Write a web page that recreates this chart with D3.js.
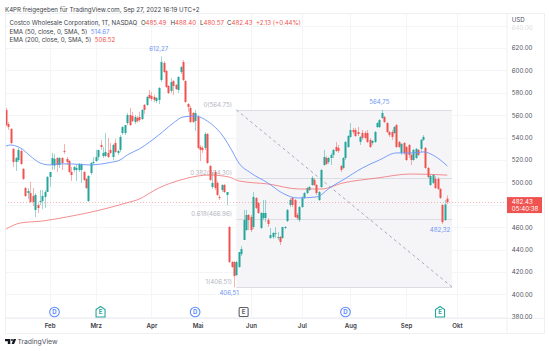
<!DOCTYPE html>
<html>
<head>
<meta charset="utf-8">
<script src="https://cdn.jsdelivr.net/npm/d3@7"></script>
<style>
body { margin: 0; background: #fff; }
svg { display: block; }
text { font-family: Inter, "Noto Sans", sans-serif; }
</style>
</head>
<body>
<div id="chart"></div>
<script>
// daily bars
const opens = [
564.7,552.1,547.7,529.9,518.2,520.0,528.1,512.0,495.0,490.5,
490.5,487.9,475.4,479.8,482.5,483.4,487.0,491.4,504.8,515.6,
515.0,521.8,515.6,521.8,528.1,520.9,519.1,509.3,511.1,511.1,
511.1,511.1,509.3,503.1,483.4,508.4,517.3,519.1,522.7,533.4,
523.6,523.6,526.3,529.0,522.7,535.2,526.3,529.0,544.1,544.1,
553.0,560.2,559.3,553.9,557.5,558.4,556.6,569.2,569.2,578.1,
577.2,576.3,572.7,573.6,591.4,606.6,599.5,586.1,581.6,590.5,
587.0,582.5,598.6,607.5,590.5,570.0,566.5,562.0,554.8,558.4,
531.6,530.8,530.8,543.2,514.7,495.9,509.3,499.5,487.0,493.2,
497.7,488.8,460.2,428.9,428.9,417.3,424.5,436.0,448.6,457.5,
470.9,469.1,460.2,486.1,481.6,459.3,468.2,468.2,466.4,450.4,
451.3,453.9,450.4,451.3,450.4,459.3,465.5,479.8,486.1,484.3,
470.9,466.4,478.0,486.1,490.5,493.2,497.7,502.2,497.7,484.3,
495.9,515.6,521.8,518.2,521.8,524.5,531.6,530.8,514.7,512.9,
521.8,531.6,540.6,546.8,546.8,545.0,536.1,544.1,544.1,544.1,
537.9,535.2,536.1,549.4,549.4,557.5,558.4,553.0,545.0,545.0,
544.1,551.2,536.1,526.3,535.2,531.6,533.4,524.5,520.0,521.8,
529.0,529.9,537.9,530.8,512.9,497.7,499.5,503.1,503.1,494.1,
479.8,466.4,485.49];
const highs = [
566.5,554.0,548.6,530.8,522.7,530.8,529.9,512.9,495.9,495.0,
500.4,495.0,490.5,481.6,493.2,493.2,493.2,505.7,509.3,526.3,
525.5,522.7,522.7,522.7,534.3,522.7,520.0,513.8,514.7,516.5,
517.4,517.4,510.2,504.0,506.6,518.2,522.7,529.0,529.0,537.9,
531.6,544.1,539.7,535.2,534.3,538.8,529.0,542.3,550.3,551.2,
562.0,566.5,562.9,560.2,559.3,562.9,565.6,570.1,577.2,582.5,
580.7,578.1,576.3,585.2,612.27,608.4,600.4,587.0,593.2,591.4,
587.9,595.0,603.9,609.3,591.4,570.9,568.3,562.9,564.7,560.2,
533.4,532.5,545.0,544.1,515.6,509.3,511.1,501.3,488.8,498.6,
498.6,491.4,461.1,429.8,429.8,429.8,437.8,443.2,475.4,475.4,
471.8,470.9,491.4,487.0,482.5,473.6,484.3,484.3,468.2,459.3,
455.7,460.2,455.7,452.2,460.2,461.1,476.3,486.1,487.0,485.2,
472.7,479.0,487.9,491.4,495.9,496.8,505.7,504.0,498.6,492.3,
512.0,529.0,523.6,522.7,526.3,529.9,536.1,533.4,515.6,522.7,
537.0,542.3,553.0,548.6,548.6,549.5,541.4,546.8,545.9,546.8,
539.7,537.9,545.9,553.9,556.6,564.75,559.3,553.9,545.9,546.8,
550.3,552.1,537.0,535.2,536.1,532.5,534.3,525.4,529.9,530.8,
529.9,538.8,542.3,531.6,513.8,506.6,507.5,505.7,504.8,495.0,
480.7,484.3,488.40];
const lows = [
550.3,546.8,534.3,513.8,510.2,518.2,515.6,502.2,487.0,485.2,
481.6,478.9,469.1,472.7,479.8,476.3,477.2,491.4,495.9,511.1,
511.5,509.3,512.9,511.1,525.4,515.6,508.4,501.3,509.3,501.3,
509.3,499.5,501.3,494.1,482.5,506.6,515.6,518.2,520.0,529.0,
521.8,522.7,521.8,525.4,520.0,526.3,524.5,527.2,542.3,542.3,
551.2,550.3,553.9,552.1,553.0,553.9,555.7,561.1,568.3,574.5,
572.7,571.8,570.9,570.0,589.6,597.7,584.3,578.9,579.8,578.1,
582.5,579.8,596.8,590.5,570.9,562.9,553.0,553.0,545.9,529.9,
519.1,526.3,529.0,516.5,501.3,494.1,493.2,487.9,484.3,491.4,
490.5,479.8,428.0,423.6,406.51,416.4,423.6,434.2,448.6,456.6,
457.5,455.7,458.4,476.3,471.8,458.4,466.4,464.6,460.2,449.5,
449.5,450.4,448.6,444.1,449.5,458.4,464.6,478.0,478.0,468.2,
466.4,464.6,477.2,485.2,489.6,492.3,496.8,496.8,488.8,483.4,
495.0,514.7,515.6,516.5,515.6,521.8,527.2,526.3,509.3,512.0,
520.0,530.8,539.7,543.2,540.6,541.4,533.4,537.9,538.8,535.2,
530.8,533.4,535.2,548.5,548.5,556.6,553.0,544.1,540.6,537.9,
543.2,530.8,530.8,524.5,524.5,519.1,521.8,515.6,519.1,520.9,
523.6,527.2,537.0,512.0,503.9,496.8,498.6,494.1,493.2,485.2,
462.8,465.5,480.57];
const closes = [
551.2,549.4,535.2,518.2,521.8,529.0,516.5,503.1,487.9,492.3,
482.5,482.5,488.8,477.1,483.4,487.9,491.4,504.8,509.3,521.8,
521.0,515.6,521.8,517.3,527.5,518.2,509.3,506.6,513.8,512.9,
516.5,515.6,502.2,495.0,505.7,517.3,518.2,522.7,529.0,531.6,
526.3,527.2,522.7,526.3,533.4,527.2,528.1,540.6,549.4,551.2,
560.2,551.2,554.8,558.4,554.8,555.7,564.7,564.7,576.3,575.4,
574.5,573.6,575.4,584.3,607.5,598.6,585.2,579.8,589.6,586.1,
583.4,594.1,603.0,591.4,571.8,567.4,553.9,553.9,562.0,530.8,
529.0,529.0,543.2,517.3,502.2,499.5,495.0,488.8,486.1,497.7,
491.4,491.4,428.9,424.5,416.4,428.9,437.8,440.5,466.4,470.9,
466.4,457.5,487.0,477.2,472.7,472.7,472.7,472.7,462.8,453.0,
454.8,454.8,451.3,446.8,460.2,460.2,475.4,484.3,479.8,469.1,
468.2,478.0,486.1,490.5,495.0,495.9,504.0,497.7,490.5,491.4,
511.1,522.7,516.5,521.8,524.5,529.0,528.1,528.1,511.1,521.8,
536.1,541.4,546.8,545.0,541.4,543.2,540.6,539.7,539.7,536.1,
531.6,537.0,545.0,553.0,555.7,562.0,553.9,545.0,542.3,540.6,
549.4,531.6,531.6,534.3,526.3,520.0,524.5,520.0,529.0,529.9,
524.5,538.0,540.6,512.9,504.8,505.7,506.6,495.0,494.1,486.1,
464.6,480.3,482.43];

// moving averages, read at the bars where the curve bends
const ema50Bars = [0,2,4,6,10,14,18,22,27,34,43,47,50,55,63,69,73,78,83,90,93,96,101,108,114,120,128,134,139,147,154,161,168,172,178,182];
const ema50 = [532.5,533.4,532.5,530.8,523.6,517.4,515.6,516.5,516.5,515.6,517.8,520.0,524.5,529.9,542.3,553.0,558.4,559.3,554.8,539.7,529.0,517.4,508.4,499.5,490.5,486.1,487.0,495.9,502.2,512.9,520.0,526.3,526.3,527.2,521.8,514.67];
const ema200Bars = [0,6,15,25,39,51,54,63,72,79,84,92,96,108,121,130,139,153,167,182];
const ema200 = [458.4,463.8,465.5,469.1,475.4,482.5,484.3,495.0,502.2,505.7,506.6,504.8,501.3,498.6,494.1,494.1,499.5,503.9,507.5,506.52];

const gridPrices = [380,400,420,440,460,480,500,520,540,560,580,600,620,640];
// 480.00 is covered by the last price tag
const priceTicks = [380,400,420,440,460,500,520,540,560,580,600,620];
const monthBars = [18,37,60,79,101,122,142,165,186];
const monthLabels = ["Feb","Mrz","Apr","Mai","Jun","Jul","Aug","Sep","Okt"];

// fib retracement
const fibBars = [95,184];
const fibLevels = [564.75,504.30,466.96,406.51];
const fibLabels = ["0(564.75)","0.382(504.30)","0.618(466.96)","1(406.51)"];

// high/low callouts, anchored on the bar's wick end
const calloutBars = [63,154,92,179];
const calloutAnchors = [612.27,564.75,406.51,462.8];
const calloutLabels = ["612,27","564,75","406,51","482,32"];
const calloutUp = [true,true,false,false];

// dividend / earnings markers
const eventBars = [20,39,78,98,140,179];
const eventKinds = ["D","E","D","X","D","E"];

const lastPrice = 482.43;
const lastCountdown = "05:40:38";

const width = 550, height = 351;
const plotLeft = 5, plotRight = 506.5, plotTop = 13, plotBottom = 318, axisBottom = 333, rightEdge = 544;
const up = "#26a69a", down = "#ef5350", blue = "#6a94fa", grey = "#50535e";
const fontSize = 6.15;

const x = d3.scaleLinear().domain([0, 186]).range([6, 457]);
const y = d3.scaleLinear().domain([380, 620]).range([316.8, 48]);

const svg = d3.select("#chart").append("svg")
    .attr("width", width)
    .attr("height", height)
    .attr("viewBox", [0, 0, width, height]);

// gridlines
svg.append("g").selectAll("line").data(gridPrices).join("line")
    .attr("x1", plotLeft).attr("x2", plotRight)
    .attr("y1", d => Math.round(y(d)) + 0.5).attr("y2", d => Math.round(y(d)) + 0.5)
    .attr("stroke", "#f4f5f7");
svg.append("g").selectAll("line").data(monthBars).join("line")
    .attr("x1", d => Math.round(x(d)) + 0.5).attr("x2", d => Math.round(x(d)) + 0.5)
    .attr("y1", plotTop).attr("y2", plotBottom)
    .attr("stroke", "#f4f5f7");

// fib box sits under the candles
const fibBox = svg.append("g");
fibBox.append("rect")
    .attr("x", x(fibBars[0])).attr("width", x(fibBars[1]) - x(fibBars[0]))
    .attr("y", y(fibLevels[0])).attr("height", y(fibLevels[3]) - y(fibLevels[0]))
    .attr("fill", "#f5f5f8");
fibBox.selectAll("line.level").data(fibLevels).join("line")
    .attr("class", "level")
    .attr("x1", x(fibBars[0])).attr("x2", x(fibBars[1]))
    .attr("y1", d => Math.round(y(d)) + 0.5).attr("y2", d => Math.round(y(d)) + 0.5)
    .attr("stroke", "#dcdde3");
fibBox.append("line")
    .attr("x1", x(fibBars[0])).attr("y1", y(fibLevels[0]))
    .attr("x2", x(fibBars[1])).attr("y2", y(fibLevels[3]))
    .attr("stroke", "#a9abb5")
    .attr("stroke-dasharray", "3,3");
fibBox.selectAll("text").data(fibLabels).join("text")
    .attr("x", x(fibBars[0]) - 4.4)
    .attr("y", (d, i) => y(fibLevels[i]) - 3)
    .attr("text-anchor", "end")
    .attr("font-size", fontSize)
    .attr("fill", "#b4b6c0")
    .text(d => d);

// last price dotted line
svg.append("line")
    .attr("x1", plotLeft).attr("x2", plotRight)
    .attr("y1", Math.round(y(lastPrice)) + 0.5).attr("y2", Math.round(y(lastPrice)) + 0.5)
    .attr("stroke", down).attr("stroke-opacity", 0.4)
    .attr("stroke-dasharray", "1,2");

// candles
const bars = d3.range(opens.length);
const candleColor = i => closes[i] >= opens[i] ? up : down;
svg.append("g").selectAll("rect").data(bars).join("rect")
    .attr("x", i => Math.round(x(i)))
    .attr("width", 1)
    .attr("y", i => y(highs[i]))
    .attr("height", i => y(lows[i]) - y(highs[i]))
    .attr("fill", candleColor)
    .attr("fill-opacity", 0.45);
svg.append("g").selectAll("rect").data(bars).join("rect")
    .attr("x", i => Math.round(x(i)) - 0.5)
    .attr("width", 2)
    .attr("y", i => y(Math.max(opens[i], closes[i])))
    .attr("height", i => Math.max(1, Math.abs(y(opens[i]) - y(closes[i]))))
    .attr("fill", candleColor);

// EMA lines
const emaLine = d3.line()
    .x(d => x(d[0]))
    .y(d => y(d[1]))
    .curve(d3.curveMonotoneX);
svg.append("path")
    .attr("d", emaLine(d3.zip(ema200Bars, ema200)))
    .attr("fill", "none").attr("stroke", "#f0686a").attr("stroke-opacity", 0.75);
svg.append("path")
    .attr("d", emaLine(d3.zip(ema50Bars, ema50)))
    .attr("fill", "none").attr("stroke", blue).attr("stroke-opacity", 0.9);

// callouts
svg.append("g").selectAll("text").data(calloutLabels).join("text")
    .attr("x", (d, i) => x(calloutBars[i]))
    .attr("y", (d, i) => y(calloutAnchors[i]) + (calloutUp[i] ? -5.5 : 7.5))
    .attr("text-anchor", "middle")
    .attr("font-size", fontSize)
    .attr("fill", "#7096f5")
    .text(d => d);

// event markers
const events = svg.append("g").selectAll("g").data(eventBars).join("g")
    .attr("transform", d => `translate(${x(d)},312)`);
events.each(function (d, i) {
    const g = d3.select(this);
    const kind = eventKinds[i];
    if (kind === "D") {
        g.append("circle").attr("r", 4.8).attr("fill", "#fff").attr("stroke", "#5b8cff").attr("stroke-width", 1.1);
    } else if (kind === "E") {
        g.append("path").attr("d", "M-4.5,5V-2.5L0,-5.5L4.5,-2.5V5Z").attr("fill", "#fff").attr("stroke", up).attr("stroke-width", 1.1);
    } else {
        g.append("rect").attr("x", -4.5).attr("y", -4.5).attr("width", 9).attr("height", 9).attr("rx", 1)
            .attr("fill", "#fff").attr("stroke", "#5d606b").attr("stroke-width", 1.1);
    }
    g.append("text")
        .attr("y", 2.2)
        .attr("text-anchor", "middle")
        .attr("font-size", 6)
        .attr("font-weight", 700)
        .attr("fill", kind === "D" ? "#5b8cff" : kind === "E" ? up : "#5d606b")
        .text(kind === "X" ? "E" : kind);
});

// frame
const frame = svg.append("g").attr("stroke", "#eff0f3").attr("fill", "none");
frame.append("rect").attr("x", plotLeft + 0.5).attr("y", plotTop + 0.5)
    .attr("width", rightEdge - plotLeft).attr("height", axisBottom - plotTop);
frame.append("line").attr("x1", plotLeft).attr("x2", rightEdge).attr("y1", plotBottom + 0.5).attr("y2", plotBottom + 0.5);
frame.append("line").attr("x1", plotRight + 0.5).attr("x2", plotRight + 0.5).attr("y1", plotTop).attr("y2", axisBottom);

// axes
const yAxis = svg.append("g")
    .attr("transform", `translate(${plotRight},0)`)
    .call(d3.axisRight(y).tickValues(priceTicks).tickFormat(d3.format(".2f")).tickSize(0).tickPadding(5.3));
yAxis.select(".domain").remove();
yAxis.selectAll("text").attr("font-size", fontSize).attr("font-family", null).attr("fill", grey);

const xAxis = svg.append("g")
    .attr("transform", `translate(0,${plotBottom})`)
    .call(d3.axisBottom(x).tickValues(monthBars).tickFormat((d, i) => monthLabels[i]).tickSize(0).tickPadding(5.5));
xAxis.select(".domain").remove();
xAxis.selectAll("text").attr("font-size", fontSize).attr("font-family", null).attr("font-weight", 600).attr("fill", "#3c3e47");

// last price tag
svg.append("rect")
    .attr("x", 507).attr("y", y(lastPrice) - 5).attr("width", 35).attr("height", 16)
    .attr("fill", down);
svg.append("text").attr("x", 511.8).attr("y", y(lastPrice) + 1.7).attr("font-size", fontSize).attr("fill", "#fff").text(d3.format(".2f")(lastPrice));
svg.append("text").attr("x", 511.8).attr("y", y(lastPrice) + 9.4).attr("font-size", fontSize).attr("fill", "#fff").text(lastCountdown);

svg.append("text").attr("x", 511.8).attr("y", 22.2).attr("font-size", fontSize).attr("fill", grey).text("USD");
svg.append("text").attr("x", 511.8).attr("y", 29.8).attr("font-size", fontSize).attr("fill", "#dcdde2").text(d3.format(".2f")(640));

// header and legend
const label = (px, py, str, fill) => svg.append("text")
    .attr("x", px).attr("y", py).attr("font-size", fontSize).attr("fill", fill).text(str);
label(5, 11.7, "K4PR freigegeben für TradingView.com, Sep 27, 2022 16:19 UTC+2", "#3c3e47");

label(9.5, 25.2, "Costco Wholesale Corporation, 1T, NASDAQ", "#3c3e47");
label(141, 25.2, "O", "#3c3e47");
label(145.5, 25.2, "485.49", down);
label(170.5, 25.2, "H", "#3c3e47");
label(175, 25.2, "488.40", down);
label(200, 25.2, "L", "#3c3e47");
label(203.5, 25.2, "480.57", down);
label(227, 25.2, "C", "#3c3e47");
label(231.5, 25.2, "482.43", down);
label(256, 25.2, "+2.13 (+0.44%)", down);

label(9.5, 34, "EMA (50, close, 0, SMA, 5)", "#3c3e47");
label(90.7, 34, "514.67", blue);
label(9.5, 42.4, "EMA (200, close, 0, SMA, 5)", "#3c3e47");
label(94.8, 42.4, "506.52", down);

// TradingView logo
const logo = svg.append("g").attr("fill", "#131722");
logo.append("path").attr("d", "M5,339H10.3V344H7.8V341.2H5Z");
logo.append("circle").attr("cx", 12).attr("cy", 340).attr("r", 1);
logo.append("path").attr("d", "M13.6,339H16.2L14.1,344H11.6Z");
label(17.4, 344.4, "TradingView", "#50535e").attr("font-size", 6.8);
</script>
</body>
</html>
